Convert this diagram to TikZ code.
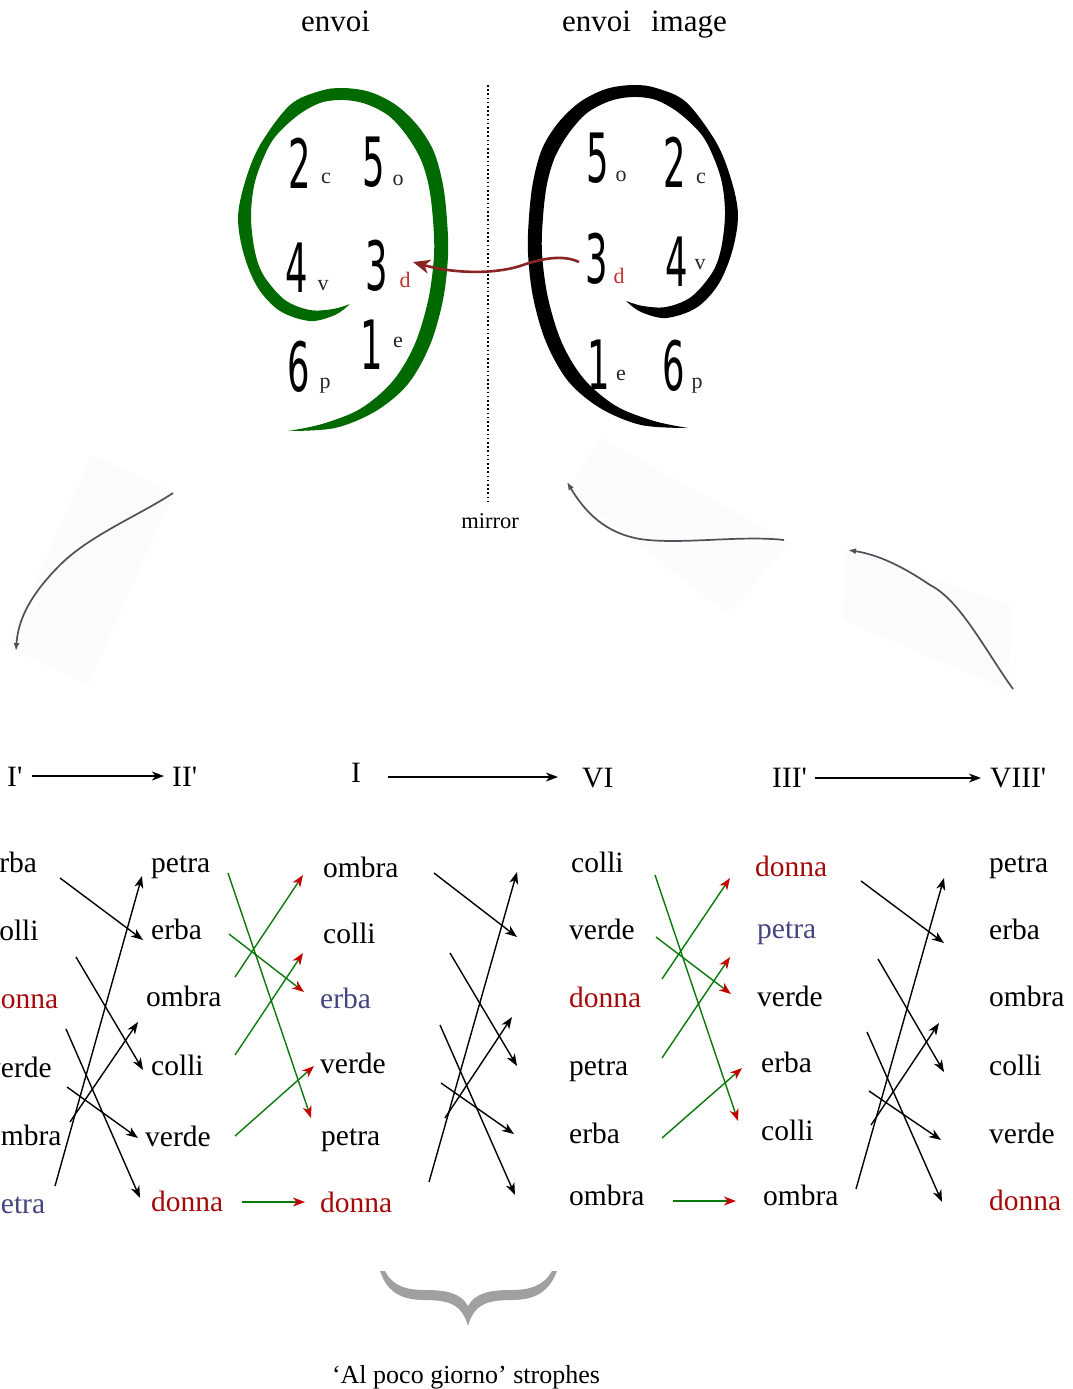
\documentclass[tikz,border=0pt]{standalone}
\usepackage{fontspec}
\setmainfont{Liberation Serif}
\newfontfamily\digitfont{DejaVu Sans}
\usetikzlibrary{arrows.meta}

\definecolor{spiralgreen}{RGB}{0,105,0}
\definecolor{linegreen}{RGB}{10,120,10}
\definecolor{tipred}{RGB}{195,0,0}
\definecolor{wordred}{RGB}{165,10,10}
\definecolor{wordblue}{RGB}{68,68,128}
\definecolor{subred}{RGB}{190,50,50}
\definecolor{mirrorred}{RGB}{140,35,35}
\definecolor{sketchgray}{RGB}{80,80,90}
\definecolor{bracegray}{RGB}{160,160,160}

\newcommand\slimdigit[1]{\scalebox{0.52}[1]{#1}}

\tikzset{
  word/.style={anchor=base west, inner sep=0pt, font=\fontsize{29.5}{34}\selectfont},
  roman/.style={anchor=base west, inner sep=0pt, font=\fontsize{29.5}{34}\selectfont},
  title/.style={anchor=base west, inner sep=0pt, font=\fontsize{31}{36}\selectfont},
  digit/.style={inner sep=0pt, font=\digitfont\fontsize{68}{70}\selectfont},
  sub/.style={inner sep=0pt, anchor=base, text=black!85, font=\fontsize{22}{24}\selectfont},
  blk/.style={line width=1.4pt, -{Stealth[length=12pt,width=9pt,inset=3.5pt]}},
  grn/.style={draw=linegreen, line width=1.4pt, -{Stealth[length=12pt,width=9pt,inset=3.5pt,color=tipred]}},
  sketch/.style={draw=sketchgray, line width=1.7pt, -{Latex[length=8pt,width=6pt]}},
  patch/.style={fill=black!1.3},
  curlspiral/.pic={
    \fill plot[smooth,tension=0.55] coordinates {
      (350,304) (335,315) (310,321) (280,311) (258,288) (244,255) (238,218)
      (245,182) (260,145) (290,105) (320,91) (343,88) (370,92) (396,105)
      (418,126) (434,152) (443,185) (447,220) (448,256) (443,300) (430,345)
      (408,384) (376,411) (335,428) (288,431)}
      -- plot[smooth,tension=0.55] coordinates {
      (288,431) (322,424) (360,409) (392,382) (414,346) (428,301) (434,256)
      (433,220) (429,187) (421,160) (407,136) (389,116) (366,104) (343,100)
      (320,103) (297,116) (275,137) (263,159) (254,186) (251,218) (255,252)
      (264,276) (285,300) (310,310) (333,309) (350,304)} -- cycle;
  }
}

\begin{document}
\begin{tikzpicture}[x=1pt, y=-1pt]
\useasboundingbox (0,0) rectangle (1072,1389);

% titles
\node[title] (tleft) at (301,32) {envoi};
\node[title] (tright) at (562,32) {envoi\hspace{20pt}image};

% the two spirals, the right one mirrored in the dotted line
\pic[color=spiralgreen] at (0,0) {curlspiral};
\pic[color=black, xscale=-1] at (976,-3) {curlspiral};

% mirror line
\coordinate (mtop) at (488,85);
\coordinate (mbot) at (488,503);
\draw[line width=1.6pt, dash pattern=on 1.6pt off 2.6pt] (mtop) -- (mbot);
\node[anchor=base, inner sep=0pt, font=\fontsize{22.5}{26}\selectfont] (mirror) at (490,528) {mirror};

% numbers in the green spiral
\node[digit] (g2) at (300,163) {\slimdigit{2}};
\node[sub] (g2s) at (326,183) {c};
\node[digit] (g5) at (374,162) {\slimdigit{5}};
\node[sub] (g5s) at (398,185) {o};
\node[digit] (g4) at (297,268) {\slimdigit{4}};
\node[sub] (g4s) at (323,290) {v};
\node[digit] (g3) at (377,266) {\slimdigit{3}};
\node[sub, text=subred] (g3s) at (405,287) {d};
\node[digit] (g6) at (299,367) {\slimdigit{6}};
\node[sub] (g6s) at (325,388) {p};
\node[digit] (g1) at (372,345) {\slimdigit{1}};
\node[sub] (g1s) at (398,347) {e};

% numbers in the black spiral
\node[digit] (k5) at (598,158) {\slimdigit{5}};
\node[sub] (k5s) at (621,181) {o};
\node[digit] (k2) at (675,162) {\slimdigit{2}};
\node[sub] (k2s) at (701,183) {c};
\node[digit] (k3) at (597,259) {\slimdigit{3}};
\node[sub, text=subred] (k3s) at (619,283) {d};
\node[digit] (k4) at (677,262) {\slimdigit{4}};
\node[sub] (k4s) at (700,269) {v};
\node[digit] (k1) at (599,365) {\slimdigit{1}};
\node[sub] (k1s) at (621,380) {e};
\node[digit] (k6) at (674,366) {\slimdigit{6}};
\node[sub] (k6s) at (697,388) {p};

% the 3 is carried across the mirror
\coordinate (from3) at (579,262);
\coordinate (to3) at (413,262);
\draw[mirrorred, line width=2.6pt, -{Stealth[length=17pt,width=14pt,inset=5pt]}]
  (from3) .. controls (562,254) and (540,259) .. (520,266)
  .. controls (495,274) and (455,274) .. (to3);

% faint paper patches behind the sketched arrows
\fill[patch] (92,455) -- (174,492) -- (88,684) -- (6,647) -- cycle;
\fill[patch] (600,438) -- (790,542) -- (728,614) -- (568,490) -- cycle;
\fill[patch] (845,548) -- (1012,606) -- (1008,690) -- (843,620) -- cycle;

% sketched curved arrows
\coordinate (s1a) at (173,493);
\coordinate (s1b) at (16,651);
\draw[sketch] (s1a) .. controls (140,515) and (90,535) .. (60,565)
  .. controls (30,595) and (18,620) .. (s1b);
\coordinate (s2a) at (784,540);
\coordinate (s2b) at (567,482);
\draw[sketch] (s2a) .. controls (740,535) and (680,545) .. (640,539)
  .. controls (605,533) and (585,512) .. (s2b);
\coordinate (s3a) at (1013,689);
\coordinate (s3b) at (848,550);
\draw[sketch] (s3a) .. controls (985,650) and (960,600) .. (930,585)
  .. controls (905,568) and (880,555) .. (s3b);

% strophe labels
\node[roman] (r1) at (7,786) {I\textquotesingle};
\node[roman] (r2) at (172,786) {II\textquotesingle};
\node[roman] (r3) at (351,782) {I};
\node[roman] (r4) at (582,787) {VI};
\node[roman] (r5) at (772,787) {III\textquotesingle};
\node[roman] (r6) at (990,787) {VIII\textquotesingle};
\coordinate (h1a) at (32,776);  \coordinate (h1b) at (164,776);
\coordinate (h2a) at (388,777); \coordinate (h2b) at (558,777);
\coordinate (h3a) at (815,778); \coordinate (h3b) at (981,778);
\draw[blk] (h1a) -- (h1b);
\draw[blk] (h2a) -- (h2b);
\draw[blk] (h3a) -- (h3b);

% word columns
\node[word] (a1) at (-14,872) {erba};
\node[word] (a2) at (-14,940) {colli};
\node[word, text=wordred] (a3) at (-14,1008) {donna};
\node[word] (a4) at (-14,1077) {verde};
\node[word] (a5) at (-14,1145) {ombra};
\node[word, text=wordblue] (a6) at (-14,1213) {petra};

\node[word] (b1) at (151,872) {petra};
\node[word] (b2) at (151,939) {erba};
\node[word] (b3) at (146,1006) {ombra};
\node[word] (b4) at (151,1075) {colli};
\node[word] (b5) at (145,1146) {verde};
\node[word, text=wordred] (b6) at (151,1211) {donna};

\node[word] (c1) at (323,877) {ombra};
\node[word] (c2) at (323,943) {colli};
\node[word, text=wordblue] (c3) at (320,1008) {erba};
\node[word] (c4) at (320,1073) {verde};
\node[word] (c5) at (321,1145) {petra};
\node[word, text=wordred] (c6) at (320,1212) {donna};

\node[word] (d1) at (571,872) {colli};
\node[word] (d2) at (569,939) {verde};
\node[word, text=wordred] (d3) at (569,1007) {donna};
\node[word] (d4) at (569,1075) {petra};
\node[word] (d5) at (569,1143) {erba};
\node[word] (d6) at (569,1205) {ombra};

\node[word, text=wordred] (e1) at (755,876) {donna};
\node[word, text=wordblue] (e2) at (757,938) {petra};
\node[word] (e3) at (757,1006) {verde};
\node[word] (e4) at (761,1072) {erba};
\node[word] (e5) at (761,1140) {colli};
\node[word] (e6) at (763,1205) {ombra};

\node[word] (f1) at (989,872) {petra};
\node[word] (f2) at (989,939) {erba};
\node[word] (f3) at (989,1006) {ombra};
\node[word] (f4) at (989,1075) {colli};
\node[word] (f5) at (989,1143) {verde};
\node[word, text=wordred] (f6) at (989,1210) {donna};

% permutation arrows
\foreach \n/\xa/\ya/\xb/\yb in {1/60/878/143/940, 2/76/957/143/1070, 3/66/1029/140/1198,
    4/67/1087/138/1138, 5/70/1122/138/1022, 6/55/1186/142/876} {
  \coordinate (ab\n s) at (\xa,\ya); \coordinate (ab\n e) at (\xb,\yb);
  \draw[blk] (ab\n s) -- (ab\n e);
}
\foreach \n/\xa/\ya/\xb/\yb in {1/228/873/311/1118, 2/229/934/304/992, 3/235/977/303/875,
    4/235/1055/303/953, 5/235/1136/314/1066, 6/242/1202/305/1202} {
  \coordinate (bc\n s) at (\xa,\ya); \coordinate (bc\n e) at (\xb,\yb);
  \draw[grn] (bc\n s) -- (bc\n e);
}
\foreach \n/\xa/\ya/\xb/\yb in {1/434/873/517/937, 2/450/953/517/1066, 3/440/1025/515/1195,
    4/441/1083/514/1134, 5/445/1118/512/1017, 6/429/1182/517/872} {
  \coordinate (cd\n s) at (\xa,\ya); \coordinate (cd\n e) at (\xb,\yb);
  \draw[blk] (cd\n s) -- (cd\n e);
}
\foreach \n/\xa/\ya/\xb/\yb in {1/655/875/738/1121, 2/656/937/731/994, 3/662/979/730/878,
    4/662/1058/730/957, 5/662/1138/742/1068, 6/673/1201/736/1201} {
  \coordinate (de\n s) at (\xa,\ya); \coordinate (de\n e) at (\xb,\yb);
  \draw[grn] (de\n s) -- (de\n e);
}
\foreach \n/\xa/\ya/\xb/\yb in {1/861/881/944/943, 2/878/959/944/1072, 3/867/1032/942/1202,
    4/869/1091/941/1140, 5/871/1125/939/1023, 6/856/1189/944/878} {
  \coordinate (ef\n s) at (\xa,\ya); \coordinate (ef\n e) at (\xb,\yb);
  \draw[blk] (ef\n s) -- (ef\n e);
}

% brace and caption
\fill[bracegray] (380,1271) .. controls (388,1295) and (405,1300) .. (425,1300)
  .. controls (450,1300) and (462,1305) .. (468,1326)
  .. controls (474,1305) and (486,1300) .. (511,1300)
  .. controls (531,1300) and (548,1295) .. (557,1271)
  -- (552,1271) .. controls (543,1287) and (528,1290) .. (511,1290)
  .. controls (490,1290) and (475,1293) .. (468,1306)
  .. controls (461,1293) and (446,1290) .. (425,1290)
  .. controls (408,1290) and (393,1287) .. (385,1271) -- cycle;
\node[anchor=base, inner sep=0pt, font=\fontsize{26}{30}\selectfont] (caption) at (466,1383)
  {`Al poco giorno' strophes};
\end{tikzpicture}
\end{document}
